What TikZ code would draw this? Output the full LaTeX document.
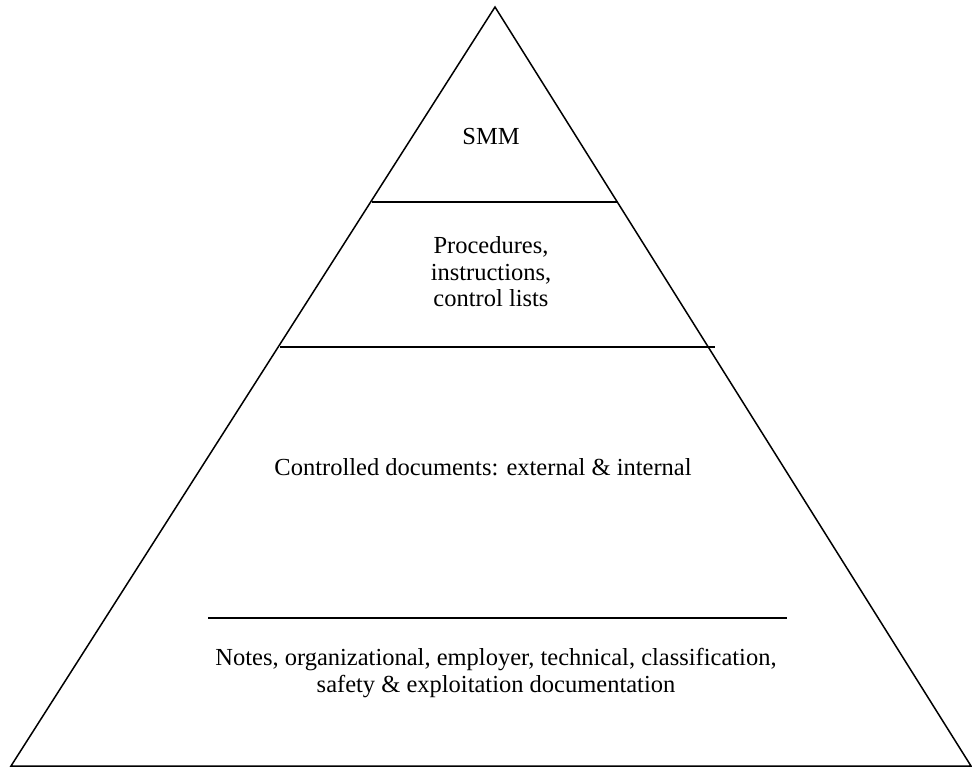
\documentclass[tikz,border=0pt]{standalone}
\usepackage{fontspec}
\setmainfont{Liberation Serif}
\usepackage{tikz}

\begin{document}
\begin{tikzpicture}[x=1pt, y=-1pt,
        level/.style={line width=1.5pt},
        label/.style={font=\fontsize{24.5}{26.5}\selectfont, align=center}]
            \useasboundingbox (0,0) rectangle (972,768);
            \coordinate (apex) at (495,7);
            \coordinate (baseL) at (11,766);
            \coordinate (baseR) at (971,766);
            \draw[level, line join=miter] (apex) -- (baseL) -- (baseR) -- cycle;
            \coordinate (a1) at (372,202);
            \coordinate (a2) at (618,202);
            \coordinate (b1) at (280,347);
            \coordinate (b2) at (715,347);
            \coordinate (c1) at (208,618);
            \coordinate (c2) at (787,618);
            \draw[level] (a1) -- (a2);
            \draw[level] (b1) -- (b2);
            \draw[level] (c1) -- (c2);
            \node[label] (smm) at (491,137) {SMM};
            \node[label] (proc) at (491,272) {Procedures,\\ instructions,\\ control lists};
            \node[label] (ctrl) at (483,467) {Controlled documents: external \& internal};
            \node[label] (notes) at (496,673) {Notes, organizational, employer, technical, classification,\\ safety \& exploitation documentation};
        \end{tikzpicture}
\end{document}
